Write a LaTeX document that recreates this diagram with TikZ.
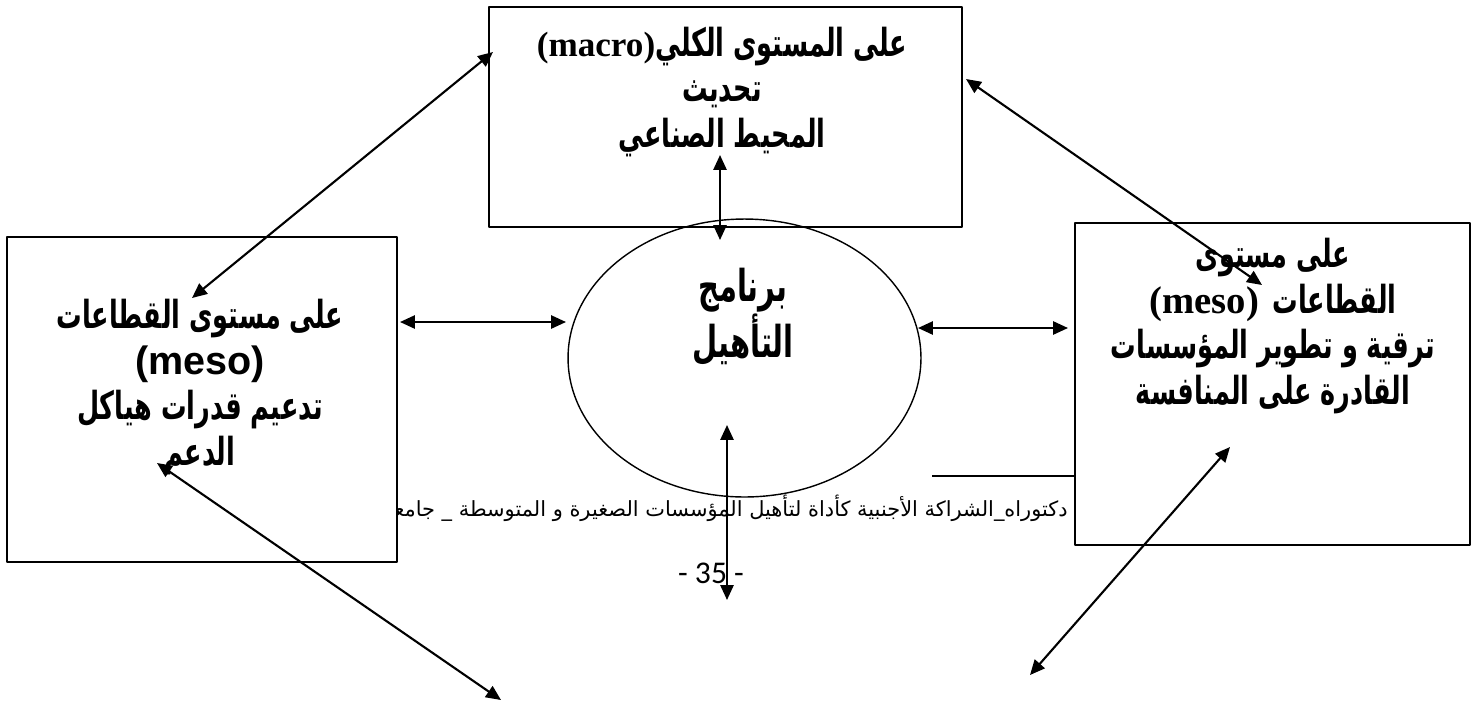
\documentclass[tikz,border=0pt]{standalone}
\usepackage{fontspec}
\usetikzlibrary{arrows.meta,positioning,shapes.geometric}
\TeXXeTstate=1
\newfontfamily\arabicfont[Script=Arabic]{DejaVu Sans}
\newfontfamily\timesfont{Liberation Serif}
\newfontfamily\arialfont{Liberation Sans}
\newfontfamily\pagefont{Carlito}
% bold Arabic words, narrowed so that they keep their height
\newcommand\arw[1]{\scalebox{0.66}[1]{\beginR #1\endR}}

\tikzset{
  box/.style={draw,line width=1.1pt,fill=white,inner sep=0pt},
  arbtext/.style={align=center,inner sep=0pt,
    font=\arabicfont\bfseries\fontsize{22}{26}\selectfont},
  foot/.style={inner sep=0pt,font=\arabicfont\fontsize{11.9}{14}\selectfont},
  dbl/.style={{Triangle[length=8.5pt,width=7.5pt]}-{Triangle[length=8.5pt,width=7.5pt]},line width=1.2pt}
}

\begin{document}
\begin{tikzpicture}[x=0.02cm,y=-0.02cm,line join=round]
  \useasboundingbox (0,0) rectangle (1483,704);
  % boxes and the programme
  \node[box,minimum width=9.46cm,minimum height=4.4cm] (macro) at (725.5,117) {};
  \node[draw,ellipse,line width=0.8pt,inner sep=0pt,minimum width=7.06cm,minimum height=5.56cm] (prog) at (744.5,358) {};
  % running header of the page
  \node[foot,anchor=east] (footTxt) at (1068,508)
    {\beginR دكتوراه\_الشراكة الأجنبية كأداة لتأهيل المؤسسات الصغيرة و المتوسطة \_ جامعة\endR};
  \coordinate (hdr) at (932,476);
  \node[box,minimum width=7.8cm,minimum height=6.5cm] (mesoL) at (202,399.5) {};
  \node[box,minimum width=7.9cm,minimum height=6.44cm] (mesoR) at (1272.5,384) {};
  \draw[line width=0.9pt] (hdr) -- (hdr -| mesoR.west);
  \node[inner sep=0pt,font=\pagefont\fontsize{18}{20}\selectfont] (pg) at (711,573) {- 35 -};

  % texts (mixed lines are written in their visual order)
  \node[arbtext] (macroTxt) at (722,92)
    {{\timesfont\fontsize{20}{26}\selectfont(macro)}\arw{على المستوى الكلي}\\
     \arw{تحديث}\\
     \arw{المحيط الصناعي}};
  \node[arbtext,font=\arabicfont\bfseries\fontsize{25}{27}\selectfont] (progTxt) at (743,317)
    {\arw{برنامج}\\ \arw{التأهيل}};
  \node[arbtext] (mesoLTxt) at (200,387)
    {\arw{على مستوى القطاعات}\\
     {\arialfont\fontsize{22.5}{26}\selectfont(meso)}\\
     \arw{تدعيم قدرات هياكل}\\
     \arw{الدعم}};
  \node[arbtext] (mesoRTxt) at (1273,326)
    {\arw{على مستوى}\\
     {\timesfont\fontsize{22}{26}\selectfont(meso)}\ \arw{القطاعات}\\
     \arw{ترقية و تطوير المؤسسات}\\
     \arw{القادرة على المنافسة}};

  % arrow ends
  \coordinate (tlA) at (493,52);   \coordinate (tlB) at (192,298);
  \coordinate (trA) at (966,79);   \coordinate (trB) at (1262,285);
  \coordinate (lhA) at (400,322);  \coordinate (lhB) at (566,322);
  \coordinate (rhA) at (918,328);  \coordinate (rhB) at (1068,328);
  \coordinate (tvA) at (720,155);  \coordinate (tvB) at (720,240);
  \coordinate (bvA) at (727,425);  \coordinate (bvB) at (727,600);
  \coordinate (blA) at (157,463);  \coordinate (blB) at (501,700);
  \coordinate (brA) at (1230,447); \coordinate (brB) at (1030,675);

  \draw[dbl] (tlA) -- (tlB);
  \draw[dbl] (trA) -- (trB);
  \draw[dbl] (lhA) -- (lhB);
  \draw[dbl] (rhA) -- (rhB);
  \draw[dbl] (tvA) -- (tvB);
  \draw[dbl] (bvA) -- (bvB);
  \draw[dbl] (blA) -- (blB);
  \draw[dbl] (brA) -- (brB);
\end{tikzpicture}
\end{document}
